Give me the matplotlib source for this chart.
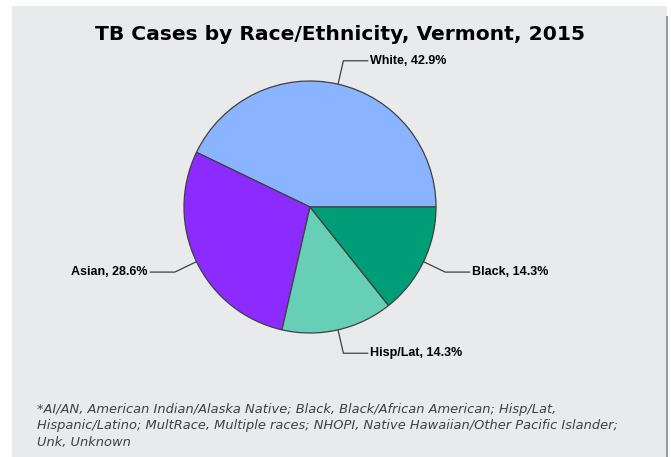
import numpy as np
import matplotlib
matplotlib.use("Agg")
import matplotlib.pyplot as plt
from matplotlib.patches import Rectangle

categories = ["White", "Asian", "Hisp/Lat", "Black"]
percents = [42.9, 28.6, 14.3, 14.3]
colors = ["#8AB4FF", "#8B2BFF", "#66CFB6", "#009E78"]
title = "TB Cases by Race/Ethnicity, Vermont, 2015"
footnote = ("*AI/AN, American Indian/Alaska Native; Black, Black/African American; Hisp/Lat,\n"
            "Hispanic/Latino; MultRace, Multiple races; NHOPI, Native Hawaiian/Other Pacific Islander;\n"
            "Unk, Unknown")

W, H = 671, 457
fig = plt.figure(figsize=(W / 100, H / 100), dpi=100)
fig.patch.set_facecolor("white")

ax = fig.add_axes([0, 0, 1, 1])
ax.axis("off")

# background panel (pixel coordinates, y up)
ax.add_patch(Rectangle((12, 0), 655, H - 6, facecolor="#E9EAEC", edgecolor="none", zorder=0))
ax.add_patch(Rectangle((666, 0), 2, H - 16, facecolor="#9A9A9C", edgecolor="none", zorder=0))

cx, cy, r = 310, H - 207, 126
wedges, _ = ax.pie(percents, colors=colors, startangle=0, counterclock=True,
                   center=(cx, cy), radius=r, frame=False,
                   wedgeprops=dict(edgecolor="#404040", linewidth=0.9, zorder=2))
ax.set_xlim(0, W)
ax.set_ylim(0, H)
ax.set_aspect("equal")
ax.axis("off")

for w, cat, p in zip(wedges, categories, percents):
    ang = np.deg2rad((w.theta1 + w.theta2) / 2)
    dx, dy = np.cos(ang), np.sin(ang)
    x0, y0 = cx + r * dx, cy + r * dy
    x1, y1 = cx + (r + 24) * dx, cy + (r + 24) * dy
    side = 1 if dx >= 0 else -1
    x2 = x1 + side * 25
    ax.plot([x0, x1, x2], [y0, y1, y1], color="#404040", lw=0.9, solid_capstyle="butt", zorder=3)
    ax.text(x2 + side * 2, y1, f"{cat}, {p}%", ha="left" if side > 0 else "right",
            va="center", fontsize=9, fontweight="bold", family="Liberation Sans", color="black",
            zorder=4)

ax.text(340, H - 34, title, ha="center", va="center", fontsize=14.6,
        fontweight="bold", family="DejaVu Sans", color="black", zorder=4)
ax.text(37, H - 403, footnote, ha="left", va="top", fontsize=9.4,
        style="italic", family="DejaVu Sans", color="#404040", linespacing=1.33, zorder=4)

fig.savefig("out.png", dpi=100, facecolor="white")
